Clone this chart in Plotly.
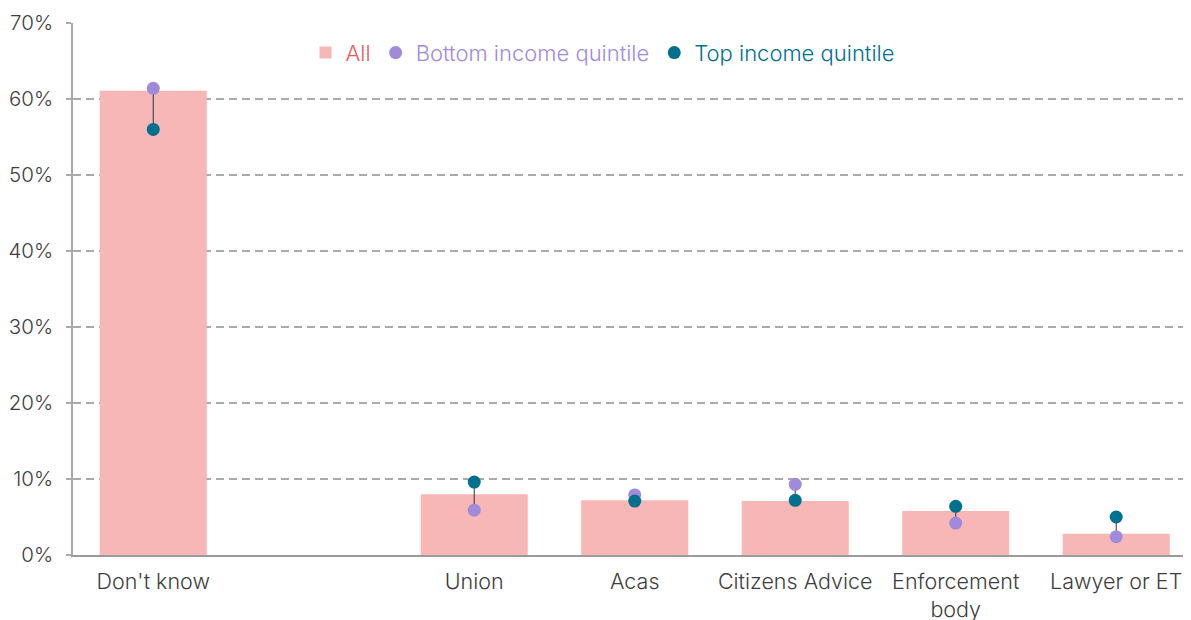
import plotly.graph_objects as go

slots = ["Don't know", "", "Union", "Acas", "Citizens Advice", "Enforcement<br>body", "Lawyer or ET"]
categories = ["Don't know", "Union", "Acas", "Citizens Advice", "Enforcement<br>body", "Lawyer or ET"]
all_vals = [61.1, 8.0, 7.2, 7.1, 5.8, 2.8]
bottom_vals = [61.4, 5.9, 7.9, 9.3, 4.2, 2.4]
top_vals = [56.0, 9.6, 7.1, 7.2, 6.4, 5.0]
y_ticks = [0, 10, 20, 30, 40, 50, 60, 70]

x = [slots.index(c) for c in categories]

PINK = "#f8b7b7"
RED = "#ee5a60"
PURPLE = "#a08bdb"
TEAL = "#00708f"
FONT = "Inter"

fig = go.Figure()
fig.add_trace(go.Bar(
    x=x, y=all_vals, width=0.667, marker=dict(color=PINK, line=dict(width=0)),
    name=f'<span style="color:{RED}">All</span>'))

lx, ly = [], []
for xi, b, t in zip(x, bottom_vals, top_vals):
    lx += [xi, xi, None]
    ly += [b, t, None]
fig.add_trace(go.Scatter(x=lx, y=ly, mode="lines", line=dict(color="#333333", width=1),
                         showlegend=False, hoverinfo="skip"))
fig.add_trace(go.Scatter(x=x, y=bottom_vals, mode="markers",
                         marker=dict(color=PURPLE, size=13),
                         name=f'<span style="color:{PURPLE}">Bottom income quintile</span>'))
fig.add_trace(go.Scatter(x=x, y=top_vals, mode="markers",
                         marker=dict(color=TEAL, size=13),
                         name=f'<span style="color:{TEAL}">Top income quintile</span>'))

fig.update_layout(
    width=1183, height=612,
    margin=dict(l=65, r=0, t=15, b=65, autoexpand=False),
    plot_bgcolor="white", paper_bgcolor="white",
    font=dict(family=FONT, size=21, color="#3e3e3e", weight=300),
    showlegend=True,
    legend=dict(orientation="h", x=0.208, y=0.944, xanchor="left", yanchor="middle",
                font=dict(size=22, weight=300), bgcolor="rgba(0,0,0,0)",
                traceorder="normal"),
    xaxis=dict(range=[-0.5, 6.466], tickmode="array", tickvals=list(range(len(slots))),
               ticktext=slots, showgrid=False, zeroline=False, showline=True,
               linecolor="#9a9a9a", linewidth=1.5, ticks="outside", ticklen=6,
               tickcolor="rgba(0,0,0,0)", fixedrange=True, automargin=False,
               tickfont=dict(size=21.5)),
    yaxis=dict(range=[0, 70], tickmode="array", tickvals=y_ticks,
               ticktext=[f"{v}%" for v in y_ticks], showgrid=True,
               gridcolor="#aaaaaa", griddash="8px,5px", gridwidth=1.5, zeroline=False,
               showline=True, linecolor="#aaaaaa", linewidth=1.5,
               ticks="outside", ticklen=5, tickcolor="#aaaaaa", tickwidth=1.5,
               ticklabelstandoff=9, automargin=False, tickfont=dict(size=20.5)),
)

fig.write_html("out.html")
